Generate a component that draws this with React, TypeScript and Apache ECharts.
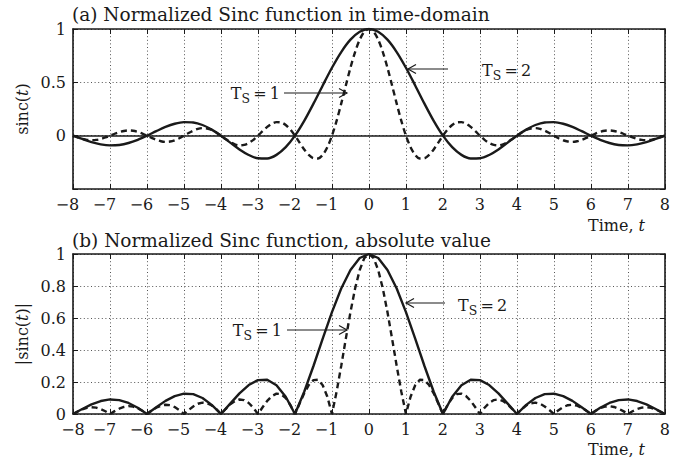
import React, { useEffect, useRef } from "react";
import * as echarts from "echarts";

// Sample grid for the two sampling periods (t from -8 to 8)
const T_START = -8;
const STEP_TS1 = 0.125;
const STEP_TS2 = 0.25;

// sinc(t), Ts = 1 (dashed)
const SINC_TS1 = [
  0, -0.015, -0.029, -0.039, -0.042, -0.040, -0.031, -0.017,
  0, 0.018, 0.033, 0.044, 0.049, 0.046, 0.036, 0.020,
  0, -0.021, -0.039, -0.052, -0.058, -0.055, -0.043, -0.024,
  0, 0.025, 0.047, 0.064, 0.071, 0.067, 0.053, 0.030,
  0, -0.031, -0.060, -0.081, -0.091, -0.087, -0.069, -0.039,
  0, 0.042, 0.082, 0.112, 0.127, 0.124, 0.100, 0.057,
  0, -0.065, -0.129, -0.181, -0.212, -0.214, -0.180, -0.108,
  0, 0.139, 0.300, 0.471, 0.637, 0.784, 0.900, 0.975,
  1,
  0.975, 0.900, 0.784, 0.637, 0.471, 0.300, 0.139, 0,
  -0.108, -0.180, -0.214, -0.212, -0.181, -0.129, -0.065, 0,
  0.057, 0.100, 0.124, 0.127, 0.112, 0.082, 0.042, 0,
  -0.039, -0.069, -0.087, -0.091, -0.081, -0.060, -0.031, 0,
  0.030, 0.053, 0.067, 0.071, 0.064, 0.047, 0.025, 0,
  -0.024, -0.043, -0.055, -0.058, -0.052, -0.039, -0.021, 0,
  0.020, 0.036, 0.046, 0.049, 0.044, 0.033, 0.018, 0,
  -0.017, -0.031, -0.040, -0.042, -0.039, -0.029, -0.015, 0,
];

// sinc(t), Ts = 2 (solid)
const SINC_TS2 = [
  0, -0.031, -0.060, -0.081, -0.091, -0.087, -0.069, -0.039,
  0, 0.042, 0.082, 0.112, 0.127, 0.124, 0.100, 0.057,
  0, -0.065, -0.129, -0.181, -0.212, -0.214, -0.180, -0.108,
  0, 0.139, 0.300, 0.471, 0.637, 0.784, 0.900, 0.975,
  1,
  0.975, 0.900, 0.784, 0.637, 0.471, 0.300, 0.139, 0,
  -0.108, -0.180, -0.214, -0.212, -0.181, -0.129, -0.065, 0,
  0.057, 0.100, 0.124, 0.127, 0.112, 0.082, 0.042, 0,
  -0.039, -0.069, -0.087, -0.091, -0.081, -0.060, -0.031, 0,
];

// |sinc(t)|, Ts = 1 (dashed)
const ABS_TS1 = [
  0, 0.015, 0.029, 0.039, 0.042, 0.040, 0.031, 0.017,
  0, 0.018, 0.033, 0.044, 0.049, 0.046, 0.036, 0.020,
  0, 0.021, 0.039, 0.052, 0.058, 0.055, 0.043, 0.024,
  0, 0.025, 0.047, 0.064, 0.071, 0.067, 0.053, 0.030,
  0, 0.031, 0.060, 0.081, 0.091, 0.087, 0.069, 0.039,
  0, 0.042, 0.082, 0.112, 0.127, 0.124, 0.100, 0.057,
  0, 0.065, 0.129, 0.181, 0.212, 0.214, 0.180, 0.108,
  0, 0.139, 0.300, 0.471, 0.637, 0.784, 0.900, 0.975,
  1,
  0.975, 0.900, 0.784, 0.637, 0.471, 0.300, 0.139, 0,
  0.108, 0.180, 0.214, 0.212, 0.181, 0.129, 0.065, 0,
  0.057, 0.100, 0.124, 0.127, 0.112, 0.082, 0.042, 0,
  0.039, 0.069, 0.087, 0.091, 0.081, 0.060, 0.031, 0,
  0.030, 0.053, 0.067, 0.071, 0.064, 0.047, 0.025, 0,
  0.024, 0.043, 0.055, 0.058, 0.052, 0.039, 0.021, 0,
  0.020, 0.036, 0.046, 0.049, 0.044, 0.033, 0.018, 0,
  0.017, 0.031, 0.040, 0.042, 0.039, 0.029, 0.015, 0,
];

// |sinc(t)|, Ts = 2 (solid)
const ABS_TS2 = [
  0, 0.031, 0.060, 0.081, 0.091, 0.087, 0.069, 0.039,
  0, 0.042, 0.082, 0.112, 0.127, 0.124, 0.100, 0.057,
  0, 0.065, 0.129, 0.181, 0.212, 0.214, 0.180, 0.108,
  0, 0.139, 0.300, 0.471, 0.637, 0.784, 0.900, 0.975,
  1,
  0.975, 0.900, 0.784, 0.637, 0.471, 0.300, 0.139, 0,
  0.108, 0.180, 0.214, 0.212, 0.181, 0.129, 0.065, 0,
  0.057, 0.100, 0.124, 0.127, 0.112, 0.082, 0.042, 0,
  0.039, 0.069, 0.087, 0.091, 0.081, 0.060, 0.031, 0,
];

const TITLE_A = "(a) Normalized Sinc function in time-domain";
const TITLE_B = "(b) Normalized Sinc function, absolute value";

const FONT = "DejaVu Serif";
const INK = "#1a1a1a";
const FS = 16;
const TITLE_FS = 18.5;

const pairs = (vals: number[], step: number) =>
  vals.map((v, i) => [T_START + i * step, v]);

const minus = (v: number) => (v < 0 ? "\u2212" + Math.abs(v) : String(v));

const labelRich = {
  n: { fontFamily: FONT, fontSize: FS, color: INK },
  p: { fontFamily: FONT, fontSize: FS, width: 11 },
};

// Negative labels keep the digit on the tick, the minus sign hangs to the left
const xLabelFmt = (shiftFirst: boolean) => (v: number) => {
  if (v < 0) {
    if (!shiftFirst && v === -8) return `{n|${minus(v)}}`;
    return `{n|${minus(v)}}{p| }`;
  }
  return `{n|${v}}`;
};

const dotted = { lineStyle: { type: [1, 2.6], color: "#555", width: 1 } };

function mainX(gridIndex: number, shiftFirst: boolean) {
  return {
    type: "value",
    gridIndex,
    min: -8,
    max: 8,
    interval: 1,
    position: "bottom",
    axisLine: { show: true, onZero: false, lineStyle: { color: INK, width: 1.6 } },
    axisTick: { show: true, inside: true, length: 5, lineStyle: { color: INK, width: 1 } },
    axisLabel: {
      margin: 7,
      formatter: xLabelFmt(shiftFirst),
      rich: labelRich,
    },
    splitLine: { show: true, ...dotted },
  };
}

function sideX(gridIndex: number) {
  return {
    type: "value",
    gridIndex,
    min: -8,
    max: 8,
    interval: 1,
    position: "top",
    axisLine: { show: true, onZero: false, lineStyle: { color: INK, width: 1.6 } },
    axisTick: { show: true, inside: true, length: 5, lineStyle: { color: INK, width: 1 } },
    axisLabel: { show: false },
    splitLine: { show: false },
  };
}

function mainY(gridIndex: number, min: number, max: number, interval: number, fmt: (v: number) => string) {
  return {
    type: "value",
    gridIndex,
    min,
    max,
    interval,
    position: "left",
    axisLine: { show: true, onZero: false, lineStyle: { color: INK, width: 1.6 } },
    axisTick: { show: true, inside: true, length: 5, lineStyle: { color: INK, width: 1 } },
    axisLabel: { margin: 7, fontFamily: FONT, fontSize: FS, color: INK, formatter: fmt },
    splitLine: { show: true, ...dotted },
  };
}

function sideY(gridIndex: number, min: number, max: number, interval: number) {
  return {
    type: "value",
    gridIndex,
    min,
    max,
    interval,
    position: "right",
    axisLine: { show: true, onZero: false, lineStyle: { color: INK, width: 1.6 } },
    axisTick: { show: true, inside: true, length: 5, lineStyle: { color: INK, width: 1 } },
    axisLabel: { show: false },
    splitLine: { show: false },
  };
}

// "T_S = n" annotation label with a subscript S
function tsLabel(x: number, y: number, n: string, align: "left" | "right") {
  return {
    type: "text",
    x,
    y,
    z: 10,
    style: {
      text: `{t|T}{s|S}{t|\u2009=\u2009${n}}`,
      align,
      verticalAlign: "middle",
      fill: INK,
      rich: {
        t: { fontFamily: FONT, fontSize: FS, fill: INK },
        s: { fontFamily: FONT, fontSize: 12.5, fill: INK, padding: [10, 0, 0, 0] },
      },
    },
  };
}

function arrow(x1: number, x2: number, y: number) {
  const dir = x2 > x1 ? 1 : -1;
  return [
    {
      type: "line",
      z: 10,
      shape: { x1, y1: y, x2, y2: y },
      style: { stroke: INK, lineWidth: 1.2 },
    },
    {
      type: "polyline",
      z: 10,
      shape: {
        points: [
          [x2 - dir * 8, y - 4.5],
          [x2, y],
          [x2 - dir * 8, y + 4.5],
        ],
      },
      style: { stroke: INK, lineWidth: 1.2, fill: "none" },
    },
  ];
}

function axisTitle(x: number, y: number, parts: string) {
  return {
    type: "text",
    x,
    y,
    rotation: Math.PI / 2,
    style: {
      text: parts,
      align: "center",
      verticalAlign: "middle",
      fill: INK,
      rich: {
        r: { fontFamily: FONT, fontSize: FS, fill: INK },
        i: { fontFamily: FONT, fontSize: FS, fontStyle: "italic", fill: INK },
      },
    },
  };
}

function timeLabel(x: number, y: number) {
  return {
    type: "text",
    x,
    y,
    style: {
      text: "{r|Time, }{i|t}",
      align: "right",
      verticalAlign: "middle",
      fill: INK,
      rich: {
        r: { fontFamily: FONT, fontSize: FS, fill: INK },
        i: { fontFamily: FONT, fontSize: FS, fontStyle: "italic", fill: INK },
      },
    },
  };
}

function title(x: number, y: number, text: string) {
  return {
    type: "text",
    x,
    y,
    style: {
      text,
      align: "left",
      verticalAlign: "middle",
      fill: INK,
      fontFamily: FONT,
      fontSize: TITLE_FS,
    },
  };
}

export default function App() {
  const ref = useRef<HTMLDivElement>(null);

  useEffect(() => {
    if (!ref.current) return;
    const chart = echarts.init(ref.current, undefined, { renderer: "svg" });

    const solid = { color: INK, width: 2.4, type: "solid" };
    const dashed = { color: INK, width: 2.4, type: [6, 4] };

    chart.setOption({
      animation: false,
      backgroundColor: "#ffffff",
      textStyle: { fontFamily: FONT, color: INK },
      grid: [
        { left: 73, right: 5, top: 29, height: 160 },
        { left: 73, right: 5, top: 254, height: 160 },
      ],
      xAxis: [mainX(0, true), mainX(1, false), sideX(0), sideX(1)],
      yAxis: [
        mainY(0, -0.5, 1, 0.5, (v) => (v < 0 ? "" : String(v))),
        mainY(1, 0, 1, 0.2, (v) => (v === 0 || v === 1 ? String(v) : v.toFixed(1))),
        sideY(0, -0.5, 1, 0.5),
        sideY(1, 0, 1, 0.2),
      ],
      series: [
        {
          name: "Ts = 2",
          type: "line",
          xAxisIndex: 0,
          yAxisIndex: 0,
          data: pairs(SINC_TS2, STEP_TS2),
          showSymbol: false,
          smooth: 0.3,
          lineStyle: solid,
          z: 3,
          markLine: {
            silent: true,
            symbol: "none",
            label: { show: false },
            lineStyle: { color: INK, width: 1.6, type: "solid" },
            data: [{ yAxis: 0 }],
          },
        },
        {
          name: "Ts = 1",
          type: "line",
          xAxisIndex: 0,
          yAxisIndex: 0,
          data: pairs(SINC_TS1, STEP_TS1),
          showSymbol: false,
          smooth: 0.3,
          lineStyle: dashed,
          z: 3,
        },
        {
          name: "|Ts = 2|",
          type: "line",
          xAxisIndex: 1,
          yAxisIndex: 1,
          data: pairs(ABS_TS2, STEP_TS2),
          showSymbol: false,
          lineStyle: solid,
          z: 3,
        },
        {
          name: "|Ts = 1|",
          type: "line",
          xAxisIndex: 1,
          yAxisIndex: 1,
          data: pairs(ABS_TS1, STEP_TS1),
          showSymbol: false,
          lineStyle: dashed,
          z: 3,
        },
      ],
      graphic: [
        title(72, 14, TITLE_A),
        title(72, 240, TITLE_B),
        axisTitle(22, 109, "{r|sinc(}{i|t}{r|)}"),
        axisTitle(22, 334, "{r||sinc(}{i|t}{r|)|}"),
        timeLabel(645, 225),
        timeLabel(645, 449),
        tsLabel(280, 93, "1", "right"),
        ...arrow(284, 347, 93),
        tsLabel(482, 70, "2", "left"),
        ...arrow(448, 408, 69),
        tsLabel(282, 330, "1", "right"),
        ...arrow(287, 347, 330),
        tsLabel(458, 305, "2", "left"),
        ...arrow(445, 406, 303),
      ],
    });

    return () => chart.dispose();
  }, []);

  return (
    <div
      ref={ref}
      style={{ position: "fixed", left: 0, top: 0, width: 673, height: 459 }}
    />
  );
}
